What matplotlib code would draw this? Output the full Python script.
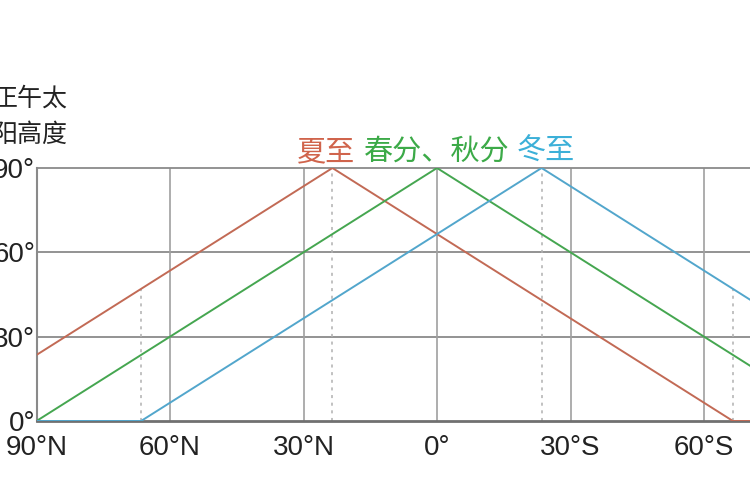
import matplotlib
matplotlib.use("Agg")
import matplotlib.pyplot as plt

plt.rcParams['font.family'] = ['Liberation Sans', 'Noto Sans CJK SC', 'DejaVu Sans']

# Data: noon solar altitude (deg) vs latitude (N positive, S negative)
lat = [90, 66.5, 23.5, 0, -23.5, -66.5, -90]
summer = [23.5, 47, 90, 66.5, 43, 0, 0]          # 夏至
equinox = [0, 23.5, 66.5, 90, 66.5, 23.5, 0]     # 春分、秋分
winter = [0, 0, 43, 66.5, 90, 47, 23.5]          # 冬至

xticks = [90, 60, 30, 0, -30, -60]
xticklabels = ["90°N", "60°N", "30°N", "0°", "30°S", "60°S"]
yticks = [0, 30, 60, 90]
yticklabels = ["0°", "30°", "60°", "90°"]
special_lats = [66.5, 23.5, -23.5, -66.5]
special_tops = [47, 90, 90, 47]

c_red = '#c26a55'
c_green = '#45a650'
c_blue = '#52a6cc'

fig = plt.figure(figsize=(7.5, 5), dpi=100)
ax = fig.add_axes([36.5/750, 79/500, 713.5/750, 253/500])
ax.set_xlim(90, 90 - 713.5/4.45)
ax.set_ylim(0, 90)

# grid lines
for y in [30, 60]:
    ax.axhline(y, color='#8a8a8a', lw=1.3, zorder=1)
for x in xticks[1:]:
    ax.axvline(x, color='#a0a0a0', lw=1.2, zorder=1)
for x, t in zip(special_lats, special_tops):
    ax.plot([x, x], [0, t], color='#b0b0b0', lw=1.1, ls=(0, (2, 3)), zorder=1)

ax.plot(lat, summer, color=c_red, lw=1.4, zorder=3)
ax.plot(lat, equinox, color=c_green, lw=1.4, zorder=3)
ax.plot(lat, winter, color=c_blue, lw=1.4, zorder=3)

ax.spines['right'].set_visible(False)
ax.spines['top'].set_color('#8a8a8a')
ax.spines['top'].set_linewidth(1.3)
ax.spines['left'].set_color('#8a8a8a')
ax.spines['left'].set_linewidth(1.5)
ax.spines['bottom'].set_color('#707070')
ax.spines['bottom'].set_linewidth(2)

ax.set_xticks(xticks)
ax.set_xticklabels(xticklabels)
ax.set_yticks(yticks)
ax.set_yticklabels(yticklabels)
ax.tick_params(axis='both', length=0, labelsize=20, colors='#222222')
ax.tick_params(axis='x', pad=10)
ax.tick_params(axis='y', pad=1)

cjk = ['Noto Sans CJK SC', 'DejaVu Sans']
fig.text(68/750, 1 - 86/500, "正午太\n阳高度", ha='right', va='top', fontsize=18,
         color='#222222', linespacing=1.5, family=cjk)

ty = 1 - 152/500
fig.text(297/750, ty, "夏至", color='#d0644c', fontsize=21, va='center', ha='left', family=cjk)
fig.text(364/750, ty, "春分、秋分", color='#3caa48', fontsize=21, va='center', ha='left', family=cjk)
fig.text(517/750, ty, "冬至", color='#3cb0d8', fontsize=21, va='center', ha='left', family=cjk)

fig.savefig("out.png", dpi=100)
